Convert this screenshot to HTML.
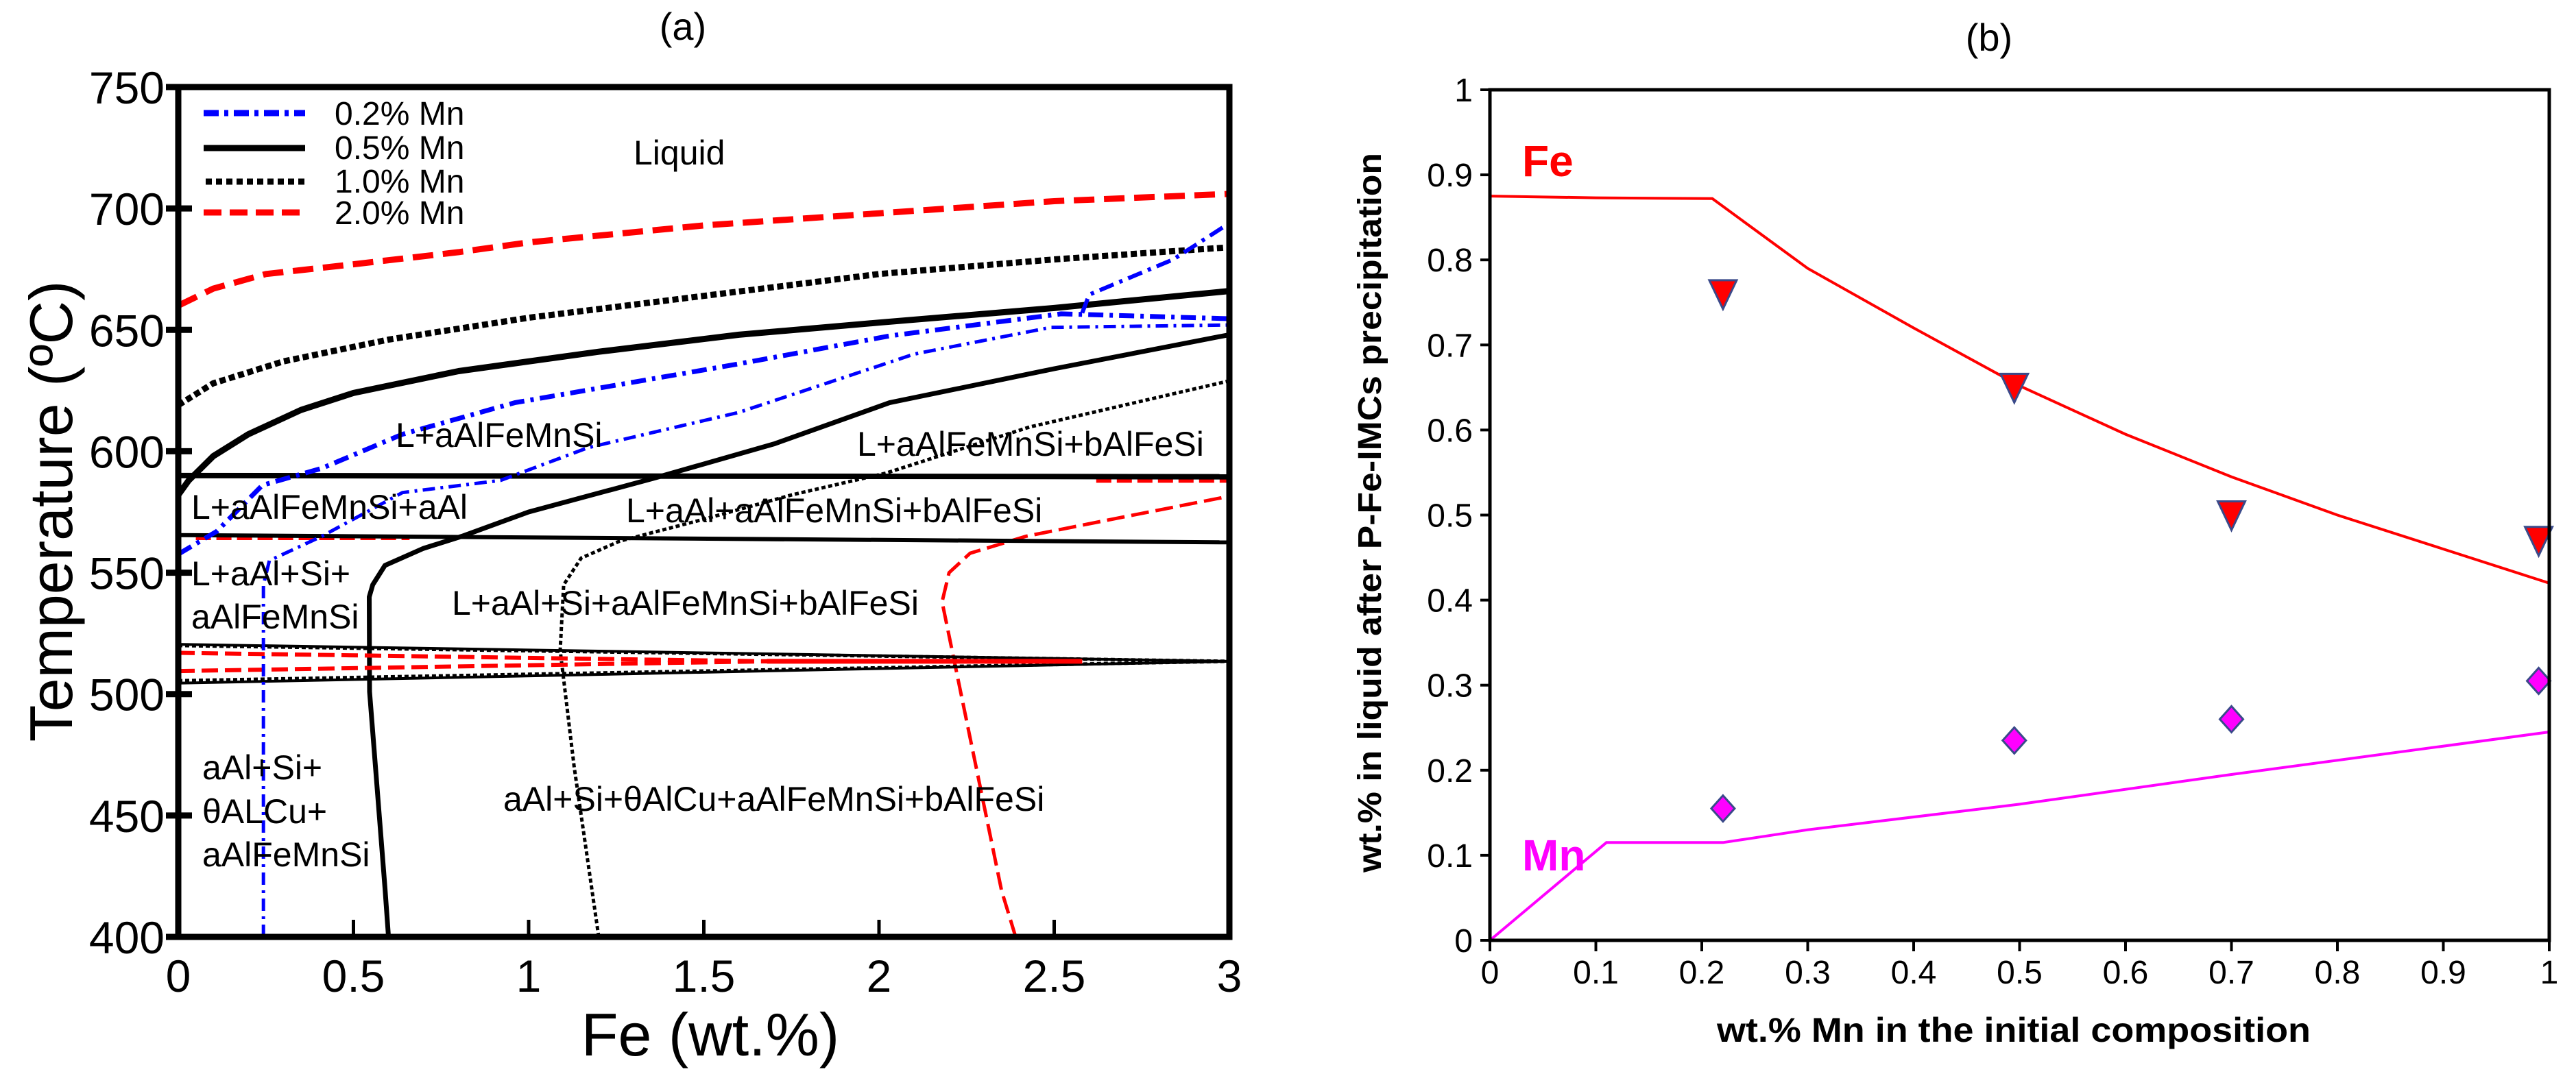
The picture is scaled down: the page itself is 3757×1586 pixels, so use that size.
<!DOCTYPE html>
<html><head><meta charset="utf-8">
<style>
html,body{margin:0;padding:0;background:#fff;}
svg{display:block;font-family:"Liberation Sans",Arial,sans-serif;}
</style></head>
<body>
<svg id="fig" width="3757" height="1586" viewBox="0 0 3757 1586" xmlns="http://www.w3.org/2000/svg">
<rect x="0" y="0" width="3757" height="1586" fill="#fff"/>
<g id="panelA"></g>
<g id="panelB"></g>
</svg>
<script>
// ---------- Panel (a) data: [Fe wt.%, Temperature °C] ----------
const aXTicks = [0, 0.5, 1, 1.5, 2, 2.5, 3];
const aXTickLabels = ["0", "0.5", "1", "1.5", "2", "2.5", "3"];
const aYTicks = [400, 450, 500, 550, 600, 650, 700, 750];
const aYTickLabels = ["400", "450", "500", "550", "600", "650", "700", "750"];
const red2Liquidus = [[0,660],[0.1,667],[0.25,673],[0.5,677],[0.8,682],[1,686],[1.5,693],[2,698],[2.5,703],[3,706]];
const red2Lower = [[2.39,400],[2.35,419],[2.21,517],[2.18,538],[2.2,550],[2.26,558],[2.42,565],[2.7,573],[3,581.5]];
const red2Upper590 = [[2.62,588],[3,588]];
const red2Left566 = [[0.05,564],[0.66,564]];
const red2WedgeTop = [[0,517],[1.68,513.5]];
const red2WedgeBot = [[0,509.5],[1.68,513.5]];
const red2WedgeSolid = [[1.68,513.5],[2.58,513.5]];
const dot1Liquidus = [[0,619],[0.1,628],[0.3,637],[0.6,646],[1,655],[1.5,664],[2,673],[2.5,679],[3,684]];
const dot1Lower = [[1.2,400],[1.18,420],[1.13,470],[1.09,518],[1.1,545],[1.15,556],[1.26,563],[1.5,572],[1.75,582],[2.02,591],[2.43,610],[3,629]];
const dot1WedgeTop = [[0,520],[3,513.5]];
const dot1WedgeBot = [[0,505.5],[3,513.5]];
const sol5Liquidus = [[0,582],[0.03,588],[0.1,598],[0.2,607],[0.35,617],[0.5,624],[0.8,633],[1.2,641],[1.6,648],[2,653],[2.5,659],[3,666]];
const sol5Second = [[0.6,400],[0.59,420],[0.546,501],[0.545,540],[0.555,545],[0.59,553],[0.7,560],[0.81,565],[1.0,575],[1.36,589],[1.7,603],[2.03,620],[2.5,634],[3,648]];
const sol5H590 = [[0,590],[3,589.5]];
const sol5H566 = [[0,565.5],[3,562.5]];
const sol5WedgeTop = [[0,520.5],[3,513.5]];
const sol5WedgeBot = [[0,504.5],[3,513.5]];
const blue02Lower = [[0.243,400],[0.243,521],[0.243,545],[0.26,555],[0.41,565],[0.64,583],[0.92,588],[1.17,601.5],[1.6,616],[2.1,640],[2.49,651],[3,652]];
const blue02Upper = [[0,557.6],[0.11,567],[0.24,586],[0.41,593],[0.64,607],[0.96,620],[1.6,636],[2.03,647.5],[2.52,656.6],[3,654.6]];
const blue02Branch = [[2.58,657],[2.6,664.5],[2.84,679],[2.99,693]];

// ---------- Panel (b) data ----------
const bXTicks = [0,0.1,0.2,0.3,0.4,0.5,0.6,0.7,0.8,0.9,1];
const bXTickLabels = ["0","0.1","0.2","0.3","0.4","0.5","0.6","0.7","0.8","0.9","1"];
const bYTicks = [0,0.1,0.2,0.3,0.4,0.5,0.6,0.7,0.8,0.9,1];
const bYTickLabels = ["0","0.1","0.2","0.3","0.4","0.5","0.6","0.7","0.8","0.9","1"];
const feLineX = [0,0.1,0.21,0.3,0.4,0.5,0.6,0.7,0.8,0.9,1];
const feLineY = [0.875,0.873,0.872,0.79,0.72,0.652,0.595,0.545,0.5,0.46,0.42];
const mnLineX = [0,0.11,0.22,0.3,0.5,0.7,1];
const mnLineY = [0,0.115,0.115,0.13,0.16,0.195,0.245];
const feExpX = [0.22,0.495,0.70,0.99];
const feExpY = [0.76,0.65,0.50,0.47];
const mnExpX = [0.22,0.495,0.70,0.99];
const mnExpY = [0.155,0.235,0.26,0.305];

const NS = "http://www.w3.org/2000/svg";
function mk(tag, attrs, parent){
  const e = document.createElementNS(NS, tag);
  for (const k in attrs) e.setAttribute(k, attrs[k]);
  parent.appendChild(e);
  return e;
}
function txt(parent, x, y, s, size, extra){
  const e = mk("text", Object.assign({x:x, y:y, "font-size":size, fill:"#000"}, extra||{}), parent);
  e.textContent = s;
  return e;
}

// Panel a scales
const aL = 260, aR = 1793, aT = 127, aB = 1367;
const ax = v => aL + (v - 0) / 3 * (aR - aL);
const ay = v => aB - (v - 400) / 350 * (aB - aT);
// Panel b scales
const bL = 2173, bR = 3718, bT = 131, bB = 1372;
const bx = v => bL + v * (bR - bL);
const by = v => bB - v * (bB - bT);

const A = document.getElementById("panelA");
const B = document.getElementById("panelB");

function curveA(pts, color, w, dash, name){
  const d = pts.map((p,i)=>(i?"L":"M")+ax(p[0]).toFixed(1)+","+ay(p[1]).toFixed(1)).join(" ");
  const e = mk("path", {d:d, fill:"none", stroke:color, "stroke-width":w, "stroke-dasharray":dash||"none", "stroke-linejoin":"round"}, A);
  
  
}

// ---- Panel (a) curves ----
const DB = "22 9 5 9", DR = "30 14", DK = "9 5";
curveA(red2Liquidus, "#f00", 9, DR, "liquidus-2pct-mn");
curveA(red2Lower, "#f00", 5, "26 10", "solvus-2pct-mn");
curveA(red2Upper590, "#f00", 7, "22 8", "boundary-590-2pct-mn");
curveA(red2Left566, "#f00", 4, "22 8", "boundary-566-2pct-mn");
curveA(dot1Liquidus, "#000", 9, DK, "liquidus-1pct-mn");
curveA(dot1Lower, "#000", 5, "6 4", "solvus-1pct-mn");
curveA(dot1WedgeTop, "#000", 5, "6 4", "eutectic-top-1pct-mn");
curveA(dot1WedgeBot, "#000", 5, "6 4", "eutectic-bottom-1pct-mn");
curveA(sol5Liquidus, "#000", 9, null, "liquidus-05pct-mn");
curveA(sol5Second, "#000", 7, null, "boundary-05pct-mn");
curveA(sol5H590, "#000", 8, null, "horizontal-590-05pct-mn");
curveA(sol5H566, "#000", 6, null, "horizontal-566-05pct-mn");
curveA(sol5WedgeTop, "#000", 4, null, "eutectic-top-05pct-mn");
curveA(sol5WedgeBot, "#000", 4, null, "eutectic-bottom-05pct-mn");
curveA(red2WedgeTop, "#f00", 6, "24 10", "eutectic-top-2pct-mn");
curveA(red2WedgeBot, "#f00", 6, "24 10", "eutectic-bottom-2pct-mn");
curveA(red2WedgeSolid, "#f00", 7, null, "eutectic-merge-2pct-mn");
curveA(blue02Lower, "#00f", 5, "18 8 4 8", "boundary-lower-02pct-mn");
curveA(blue02Upper, "#00f", 7, DB, "boundary-upper-02pct-mn");
curveA(blue02Branch, "#00f", 6, DB, "liquidus-branch-02pct-mn");

// frame a
const fa = mk("rect", {x:aL, y:aT, width:aR-aL, height:aB-aT, fill:"none", stroke:"#000", "stroke-width":9}, A);


// ticks a
aXTicks.forEach((t,i)=>{
  const l = mk("line", {x1:ax(t), x2:ax(t), y1:aB, y2:aB-25, stroke:"#000", "stroke-width":5}, A);
  
  
  const tx = txt(A, ax(t), 1447, aXTickLabels[i], 66, {"text-anchor":"middle"});
  
  
});
aYTicks.forEach((t,i)=>{
  const l = mk("line", {x1:aL-18, x2:aL+20, y1:ay(t), y2:ay(t), stroke:"#000", "stroke-width":9}, A);
  
  
  const tx = txt(A, 240, ay(t)+24, aYTickLabels[i], 66, {"text-anchor":"end"});
  
  
});
</script>
<svg style="position:absolute;left:0;top:0" width="3757" height="1586" viewBox="0 0 3757 1586" xmlns="http://www.w3.org/2000/svg">
  <text x="996" y="58" font-size="56" text-anchor="middle">(a)</text>
  <text x="2901" y="74" font-size="56" text-anchor="middle">(b)</text>
  <text transform="translate(105,746) rotate(-90)" font-size="88" text-anchor="middle">Temperature (ºC)</text>
  <text x="1036" y="1540" font-size="88" text-anchor="middle">Fe (wt.%)</text>
  <g font-size="48">
    <line x1="297" y1="165" x2="445" y2="165" stroke="#00f" stroke-width="9" stroke-dasharray="22 8 6 8"/>
    <text x="488" y="182">0.2% Mn</text>
    <line x1="297" y1="216" x2="445" y2="216" stroke="#000" stroke-width="9"/>
    <text x="488" y="232">0.5% Mn</text>
    <line x1="300" y1="265" x2="445" y2="265" stroke="#000" stroke-width="9" stroke-dasharray="9 6"/>
    <text x="488" y="281">1.0% Mn</text>
    <line x1="297" y1="310" x2="445" y2="310" stroke="#f00" stroke-width="9" stroke-dasharray="26 12"/>
    <text x="488" y="327">2.0% Mn</text>
  </g>
  <g font-size="50">
    <text x="924" y="240">Liquid</text>
    <text x="577" y="652">L+aAlFeMnSi</text>
    <text x="1250" y="665">L+aAlFeMnSi+bAlFeSi</text>
    <text x="279" y="757">L+aAlFeMnSi+aAl</text>
    <text x="913" y="762">L+aAl+aAlFeMnSi+bAlFeSi</text>
    <text x="279" y="854">L+aAl+Si+</text>
    <text x="279" y="917">aAlFeMnSi</text>
    <text x="659" y="897">L+aAl+Si+aAlFeMnSi+bAlFeSi</text>
    <text x="295" y="1137">aAl+Si+</text>
    <text x="295" y="1201">θALCu+</text>
    <text x="295" y="1264">aAlFeMnSi</text>
    <text x="734" y="1183">aAl+Si+θAlCu+aAlFeMnSi+bAlFeSi</text>
  </g>
  <text transform="translate(2014,748) rotate(-90)" font-size="48" font-weight="bold" text-anchor="middle" textLength="1050" lengthAdjust="spacingAndGlyphs">wt.% in liquid after P-Fe-IMCs precipitation</text>
  <text x="2937" y="1520" font-size="50" font-weight="bold" text-anchor="middle" textLength="866" lengthAdjust="spacingAndGlyphs">wt.% Mn in the initial composition</text>
  <text x="2220" y="257" font-size="64" font-weight="bold" fill="#f00">Fe</text>
  <text x="2220" y="1270" font-size="64" font-weight="bold" fill="#f0f">Mn</text>
  <g id="panelB2"></g>
</svg>
<script>
const B2 = document.getElementById("panelB2");
function lineB(xs, ys, color, name){
  const d = xs.map((v,i)=>(i?"L":"M")+bx(v).toFixed(1)+","+by(ys[i]).toFixed(1)).join(" ");
  const e = mk("path", {d:d, fill:"none", stroke:color, "stroke-width":4}, B2);
  
  
}
lineB(feLineX, feLineY, "#f00", "fe-model-line");
lineB(mnLineX, mnLineY, "#f0f", "mn-model-line");
feExpX.forEach((v,i)=>{
  const cx = bx(v), cy = by(feExpY[i]);
  const p = mk("polygon", {points:`${cx-20},${cy-20} ${cx+20},${cy-20} ${cx},${cy+22}`, fill:"#f00", stroke:"#3a4a8a", "stroke-width":3}, B2);
  
  
});
mnExpX.forEach((v,i)=>{
  const cx = bx(v), cy = by(mnExpY[i]);
  const p = mk("polygon", {points:`${cx},${cy-19} ${cx+17},${cy} ${cx},${cy+19} ${cx-17},${cy}`, fill:"#f0f", stroke:"#3a4a8a", "stroke-width":3}, B2);
  
  
});
const fb = mk("rect", {x:bL, y:bT, width:bR-bL, height:bB-bT, fill:"none", stroke:"#000", "stroke-width":5}, B2);


bXTicks.forEach((t,i)=>{
  const l = mk("line", {x1:bx(t), x2:bx(t), y1:bB, y2:bB+16, stroke:"#000", "stroke-width":4}, B2);
  
  
  const tx = txt(B2, bx(t), 1435, bXTickLabels[i], 48, {"text-anchor":"middle"});
  
  
});
bYTicks.forEach((t,i)=>{
  const l = mk("line", {x1:bL-14, x2:bL, y1:by(t), y2:by(t), stroke:"#000", "stroke-width":4}, B2);
  
  
  const tx = txt(B2, 2148, by(t)+17, bYTickLabels[i], 48, {"text-anchor":"end"});
  
  
});
</script>
</body></html>
